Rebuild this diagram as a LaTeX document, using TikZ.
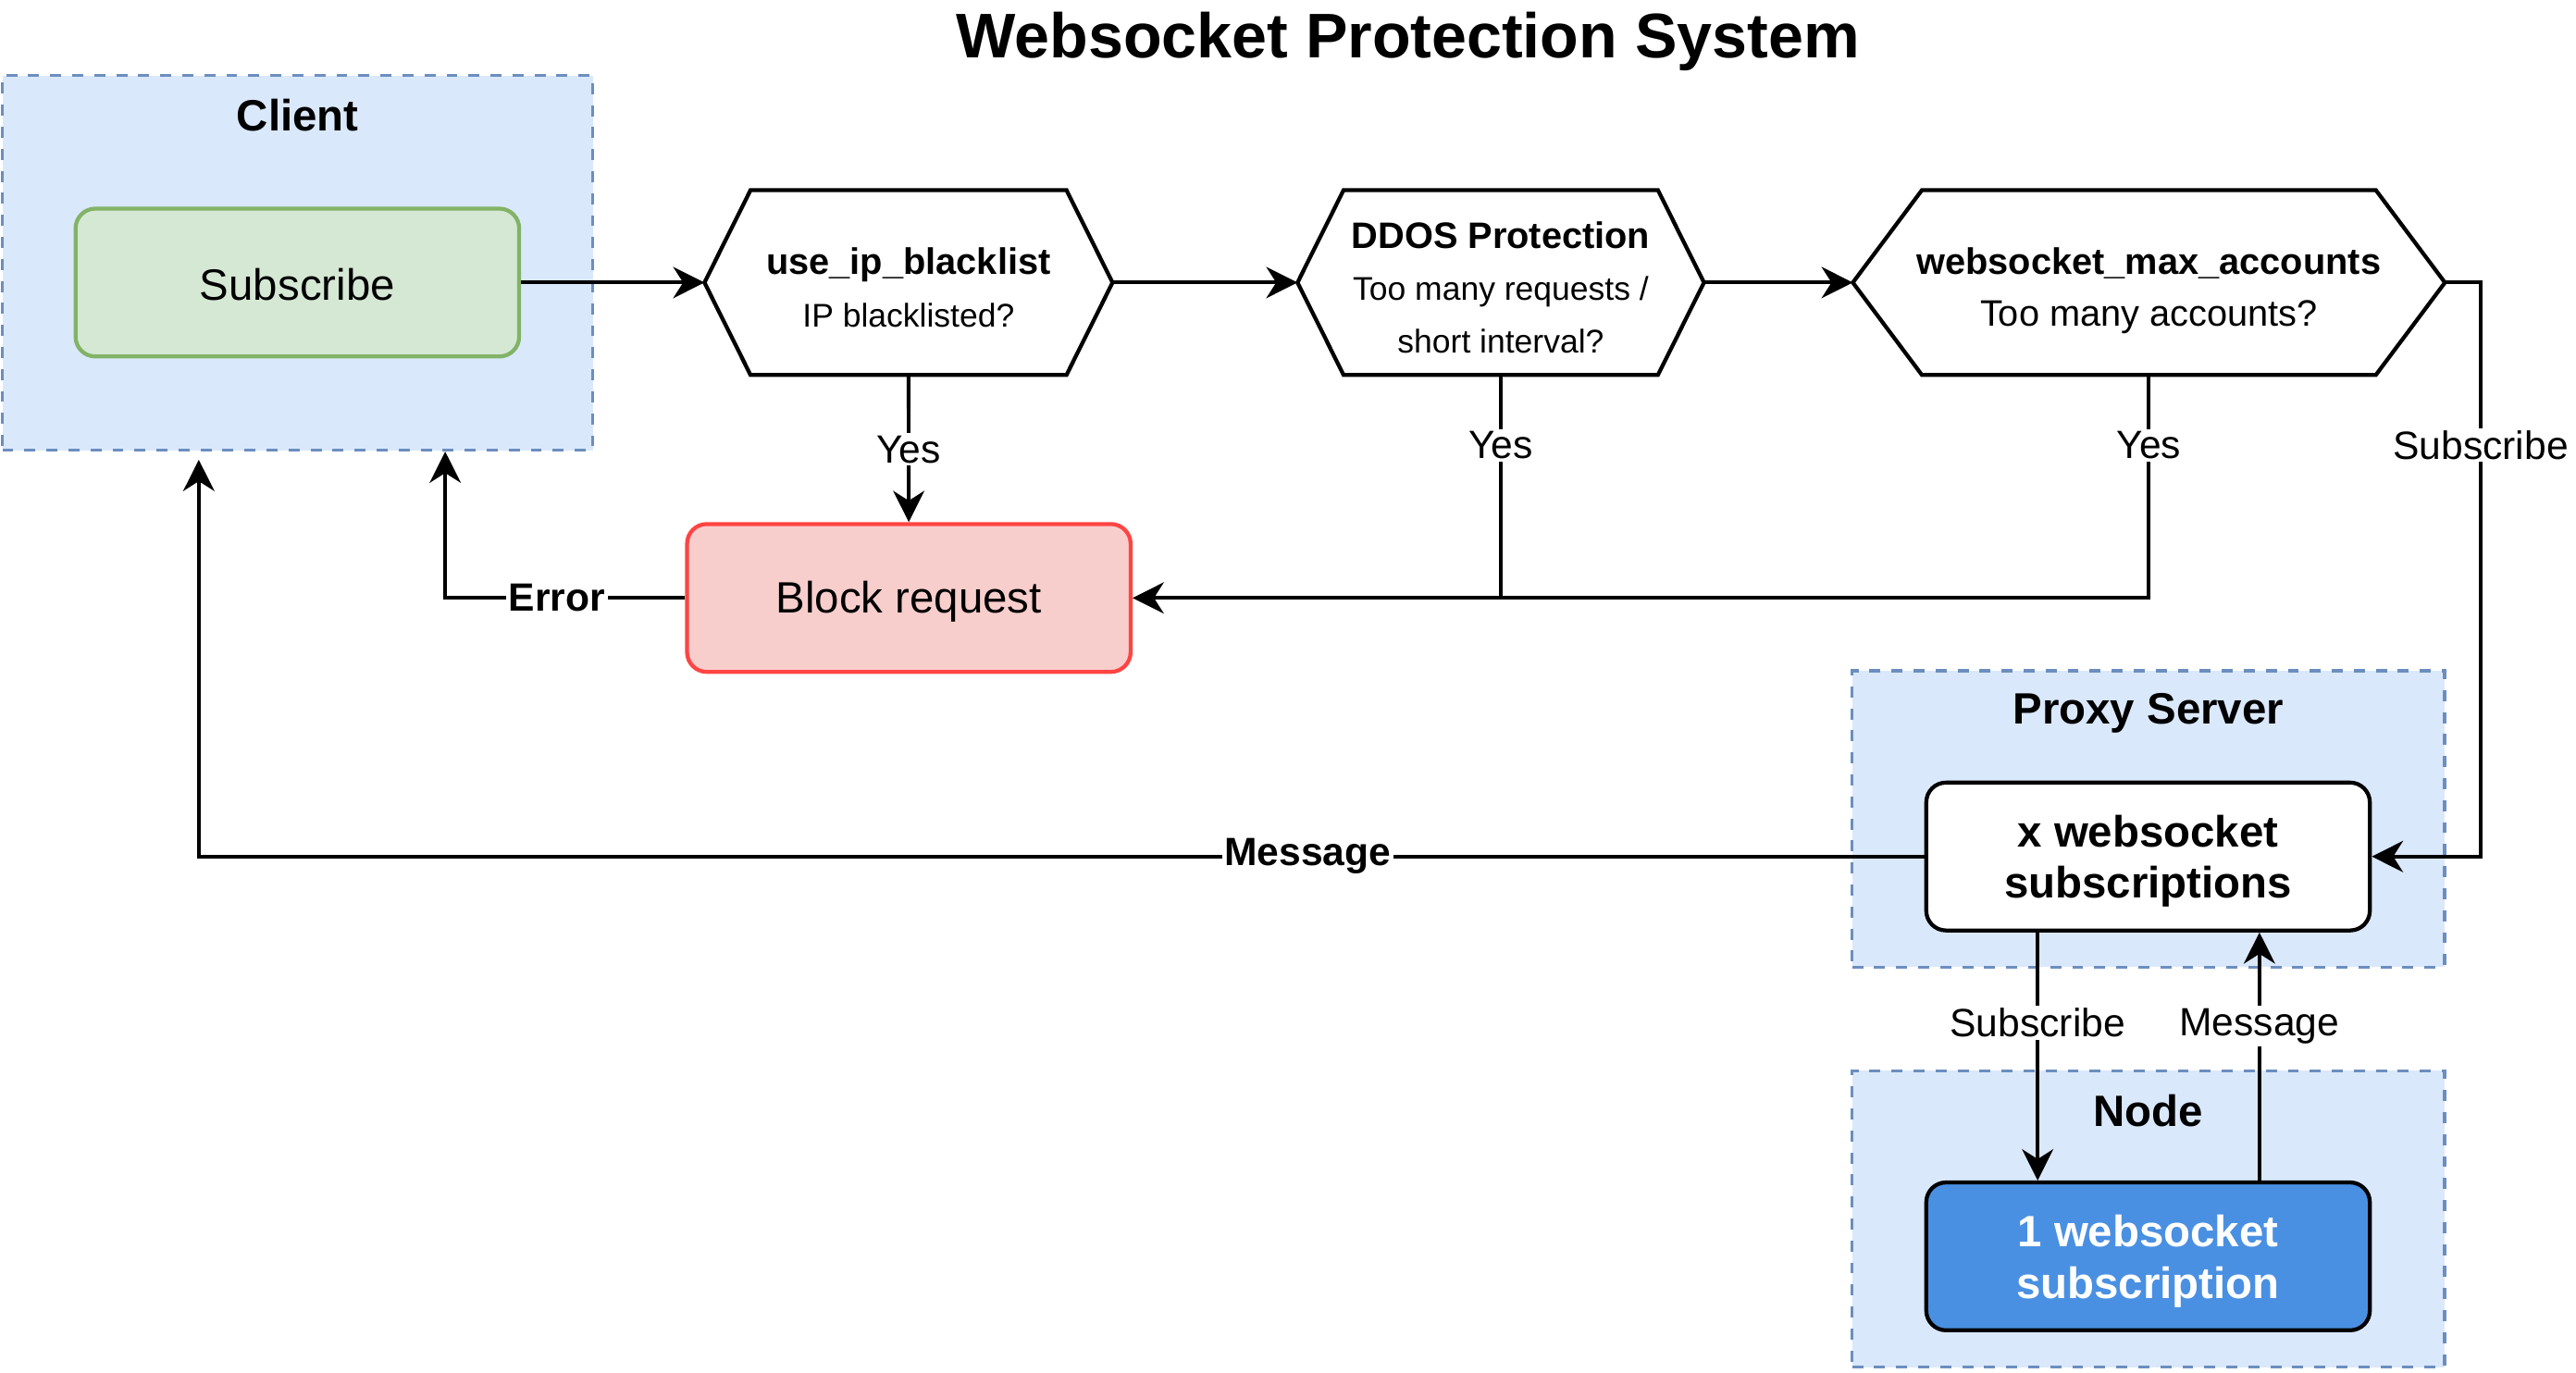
\documentclass[tikz,border=0pt]{standalone}
\usepackage{fontspec}
\setmainfont{Liberation Sans}
\usetikzlibrary{arrows.meta}
\definecolor{contfill}{HTML}{DAE8FC}
\definecolor{contdraw}{HTML}{6C8EBF}
\definecolor{greenfill}{HTML}{D5E8D4}
\definecolor{greendraw}{HTML}{82B366}
\definecolor{redfill}{HTML}{F8CECC}
\definecolor{reddraw}{HTML}{FF4444}
\definecolor{bluebox}{HTML}{4A90E2}
\begin{document}
\begin{tikzpicture}[x=1pt,y=-1pt,
  container/.style={draw=contdraw, fill=contfill, line width=1.8pt, dash pattern=on 6.7pt off 6.7pt, inner sep=0pt, minimum width=360pt, rectangle},
  conttitle/.style={font=\fontsize{26.7}{31}\selectfont\bfseries, inner sep=0pt},
  box/.style={draw, rounded corners=12pt, line width=2.4pt, minimum width=270pt, minimum height=90pt, inner sep=0pt},
  boxtext/.style={align=center, inner sep=0pt, font=\fontsize{26.7}{31.5}\selectfont},
  hexbox/.style={minimum height=112pt, inner sep=0pt},
  hextext/.style={align=center, inner sep=0pt, font=\fontsize{22.4}{32}\selectfont},
  hexline/.style={draw, fill=white, line width=2.4pt, line join=miter},
  conn/.style={line width=2.2pt},
  arrow/.style={conn, -{Stealth[length=19pt, width=19pt, inset=6pt]}},
  lbl/.style={fill=white, inner sep=1.5pt, font=\fontsize{24}{28}\selectfont},
  blbl/.style={lbl, font=\fontsize{24}{28}\selectfont\bfseries}
]
\useasboundingbox (0,0) rectangle (1568,835.8);

% title
\node[font=\fontsize{38.4}{44}\selectfont\bfseries, inner sep=0pt] (title) at (857,25) {Websocket Protection System};

% containers
\node[container, minimum width=359.5pt, minimum height=228pt] (client) at (181.2,160) {};
\node[conttitle] (clientlbl) at (181.2,70) {Client};
\node[container, minimum width=360.7pt, minimum height=180.3pt] (proxyc) at (1307.7,498.5) {};
\node[conttitle] (proxylbl) at (1307.7,434) {Proxy Server};
\node[container, minimum width=360.7pt, minimum height=180.3pt] (nodec) at (1307.7,742) {};
\node[conttitle] (nodelbl) at (1307.7,676) {Node};

% boxes
\node[box, fill=greenfill, draw=greendraw] (sub) at (181,172) {};
\node[boxtext] (subt) at (181,173) {Subscribe};
\node[box, fill=redfill, draw=reddraw] (block) at (553.2,364) {};
\node[boxtext] (blockt) at (553.2,366.5) {Block request};
\node[box, fill=white] (proxy) at (1307.5,521.4) {};
\node[boxtext, font=\fontsize{26.7}{31.5}\selectfont\bfseries] (proxyt) at (1307.5,524.2) {x websocket\\subscriptions};
\node[box, fill=bluebox] (nodebox) at (1307.5,764.8) {};
\node[boxtext, text=white, font=\fontsize{26.7}{31.5}\selectfont\bfseries] (nodet) at (1307.5,767.6) {1 websocket\\subscription};

% hexagons
\node[hexbox, minimum width=248pt] (h1) at (553,172) {};
\draw[hexline] (h1.west) -- ([xshift=28pt]h1.north west) -- ([xshift=-28pt]h1.north east) -- (h1.east) -- ([xshift=-28pt]h1.south east) -- ([xshift=28pt]h1.south west) -- cycle;
\node[hextext] (h1t) at (553,175) {\textbf{use\_ip\_blacklist}\\{\fontsize{20}{32}\selectfont IP blacklisted?}};

\node[hexbox, minimum width=247pt] (h2) at (913.5,172) {};
\draw[hexline] (h2.west) -- ([xshift=28pt]h2.north west) -- ([xshift=-28pt]h2.north east) -- (h2.east) -- ([xshift=-28pt]h2.south east) -- ([xshift=28pt]h2.south west) -- cycle;
\node[hextext] (h2t) at (913.5,175) {\textbf{DDOS Protection}\\{\fontsize{20}{32}\selectfont Too many requests /}\\{\fontsize{20}{32}\selectfont short interval?}};

\node[hexbox, minimum width=360pt] (h3) at (1308,172) {};
\draw[hexline] (h3.west) -- ([xshift=42pt]h3.north west) -- ([xshift=-42pt]h3.north east) -- (h3.east) -- ([xshift=-42pt]h3.south east) -- ([xshift=42pt]h3.south west) -- cycle;
\node[hextext] (h3t) at (1308,177) {\textbf{websocket\_max\_accounts}\\Too many accounts?};

% helper coordinates
\coordinate (subx) at (1510,0);
\coordinate (errx) at (271,0);
\coordinate (msgx) at (121,0);

% connectors
\draw[arrow] (sub.east) -- (h1.west);
\draw[arrow] (h1.east) -- (h2.west);
\draw[arrow] (h2.east) -- (h3.west);
\draw[arrow] (h1.south) -- (block.north);
\draw[arrow] (h2.south) |- (block.east);
\draw[conn] (h3.south) |- (h2.south |- block.east);
\draw[arrow] (h3.east) -| (subx |- proxy.east) -- (proxy.east);
\draw[arrow] (block.west) -| (errx |- client.south);
\draw[arrow] (proxy.west) -| ([yshift=-5pt]msgx |- client.south);
\draw[arrow] ([xshift=-67.2pt]proxy.south) -- ([xshift=-67.2pt]nodebox.north);
\draw[arrow] ([xshift=67.8pt]nodebox.north) -- ([xshift=67.8pt]proxy.south);

% labels
\node[lbl] (yes1) at (553,273.5) {Yes};
\node[lbl] (yes2) at (913.5,271) {Yes};
\node[lbl] (yes3) at (1308,271) {Yes};
\node[lbl] (sublbl) at (1510,271) {Subscribe};
\node[blbl] (errlbl) at (339,364) {Error};
\node[blbl] (msglbl) at (796,521.4) {Message};
\node[lbl] (sub2lbl) at (1240.3,622.5) {Subscribe};
\node[lbl] (msg2lbl) at (1375.3,624.5) {Message};
\end{tikzpicture}
\end{document}
